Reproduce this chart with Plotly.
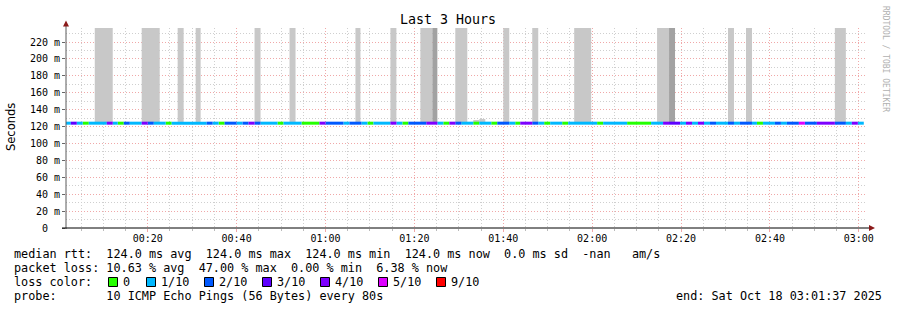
import plotly.graph_objects as go
from datetime import datetime, timedelta

# ---------------- data ----------------
DAY = datetime(2025, 10, 18)
range_start = "2025-10-18 00:01:37"
range_end = "2025-10-18 03:01:37"

median_rtt_ms = 124.0

# loss-coloured median line: run start (minutes after 00:00) and loss level (x/10)
loss_seg_start_min = [1.57, 2.70, 4.04, 5.39, 6.74, 10.79, 12.13, 13.26, 14.61, 15.96,
                      18.65, 20.00, 21.35, 24.04, 25.39, 33.26, 34.61, 35.96, 37.30, 40.00,
                      41.35, 42.70, 44.04, 45.39, 49.21, 50.56, 54.61, 58.65, 60.00, 64.04,
                      65.39, 68.09, 69.44, 70.79, 74.61, 75.96, 77.30, 78.65, 82.70, 85.17,
                      86.52, 87.87, 89.21, 90.56, 93.26, 94.61, 97.30, 98.65, 101.35, 102.70,
                      103.82, 106.52, 107.87, 109.21, 110.56, 113.26, 114.61, 121.12, 122.47, 127.87,
                      133.26, 135.96, 137.30, 139.78, 141.12, 142.47, 143.82, 145.17, 146.52, 147.87,
                      150.56, 151.91, 153.26, 155.96, 157.08, 158.43, 161.12, 162.47, 163.82, 166.52,
                      167.87, 170.56, 174.61, 177.08, 178.43, 179.78]
loss_seg_level = [1, 3, 1, 0, 1, 4, 1, 0, 2, 1,
                  4, 2, 1, 0, 1, 2, 1, 0, 2, 1,
                  2, 4, 2, 1, 0, 1, 0, 4, 2, 1,
                  2, 1, 0, 1, 4, 1, 0, 2, 4, 1,
                  0, 4, 2, 1, 0, 1, 0, 2, 1, 0,
                  4, 2, 1, 0, 1, 0, 1, 0, 1, 0,
                  1, 4, 3, 1, 4, 1, 4, 1, 2, 1,
                  2, 1, 2, 1, 0, 1, 2, 1, 2, 5,
                  2, 4, 2, 1, 4, 1]
loss_last_end_min = 181.12

# smoke (spread of the pings above the median)
smoke_start_min = [8.09, 18.65, 26.74, 30.79, 44.04, 51.91, 66.74, 74.61, 81.35, 84.04,
                   89.21, 93.26, 94.61, 100.00, 106.52, 115.96, 134.61, 137.30, 150.56, 154.61, 174.61]
smoke_end_min = [12.13, 22.70, 28.09, 31.91, 45.39, 53.26, 67.87, 75.96, 84.04, 85.17,
                 91.91, 94.61, 95.96, 101.35, 107.87, 119.78, 137.30, 138.65, 151.91, 155.96, 177.08]
smoke_top_ms = [245, 245, 245, 245, 245, 245, 245, 245, 245, 245,
                245, 127.7, 128.9, 245, 245, 245, 245, 245, 245, 245, 245]
smoke_dense = [0, 0, 0, 0, 0, 0, 0, 0, 0, 1,
               0, 0, 0, 0, 0, 0, 0, 1, 0, 0, 0]

loss_levels = [0, 1, 2, 3, 4, 5, 9]
loss_labels = ["0", "1/10", "2/10", "3/10", "4/10", "5/10", "9/10"]
loss_colors = ["#26ff00", "#00b8ff", "#0059ff", "#5e00ff", "#7e00ff", "#dd00ff", "#ff0000"]

y_tick_vals = [0, 20, 40, 60, 80, 100, 120, 140, 160, 180, 200, 220]
y_tick_text = ["0\u00a0\u00a0", "20\u00a0m", "40\u00a0m", "60\u00a0m", "80\u00a0m", "100\u00a0m",
               "120\u00a0m", "140\u00a0m", "160\u00a0m", "180\u00a0m", "200\u00a0m", "220\u00a0m"]

stat_lines = [
    "median rtt:  124.0 ms avg  124.0 ms max  124.0 ms min  124.0 ms now  0.0 ms sd  -nan   am/s",
    "packet loss: 10.63 % avg  47.00 % max  0.00 % min  6.38 % now",
]
probe_line = "probe:       10 ICMP Echo Pings (56 Bytes) every 80s"
end_line = "end: Sat Oct 18 03:01:37 2025"

# ---------------- helpers ----------------
def t(m):
    return DAY + timedelta(minutes=m)

W, H = 897, 310
ML, MR, MT, MB = 66, 31, 28, 82
PW, PH = W - ML - MR, H - MT - MB

def px(x):
    return (x - ML) / PW

def py(y):
    return (H - MB - y) / PH

MONO = "DejaVu Sans Mono"

fig = go.Figure()

# smoke bars
sx, sw, sb, sy, sc = [], [], [], [], []
for a, b, top, dense in zip(smoke_start_min, smoke_end_min, smoke_top_ms, smoke_dense):
    sx.append(t((a + b) / 2))
    sw.append((b - a) * 60000)
    sb.append(median_rtt_ms)
    sy.append(top - median_rtt_ms)
    sc.append("#a2a2a2" if dense else "#c8c8c8")
fig.add_trace(go.Bar(x=sx, y=sy, base=sb, width=sw, marker=dict(color=sc, line=dict(width=0)),
                     hoverinfo="skip"))

# loss-coloured median line
ends = loss_seg_start_min[1:] + [loss_last_end_min]
for lvl, col in zip(loss_levels, loss_colors):
    xs, ys = [], []
    for a, b, l in zip(loss_seg_start_min, ends, loss_seg_level):
        if l == lvl:
            xs += [t(a), t(b), None]
            ys += [median_rtt_ms, median_rtt_ms, None]
    if xs:
        fig.add_trace(go.Scatter(x=xs, y=ys, mode="lines", line=dict(color=col, width=3),
                                 hoverinfo="skip"))

major_grid = "#f0a8a8"
minor_grid = "#cfcfcf"

fig.update_xaxes(type="date", range=[range_start, range_end], tickformat="%H:%M",
                 tick0="2025-10-18 00:00:00", dtick=20 * 60000,
                 showgrid=True, gridcolor=major_grid, griddash="1px,2px", gridwidth=1,
                 ticks="outside", ticklen=3, tickcolor="#f0a8a8",
                 ticklabelstandoff=-2,
                 tickfont=dict(family=MONO, size=10, color="#000"),
                 minor=dict(tick0="2025-10-18 00:00:00", dtick=5 * 60000, showgrid=True,
                            gridcolor=minor_grid, griddash="1px,2px", gridwidth=1, ticks="outside",
                            ticklen=2, tickcolor="#bbbbbb"),
                 showline=False, zeroline=False, fixedrange=True)
fig.update_yaxes(range=[0, 236.6], tickvals=y_tick_vals, ticktext=y_tick_text,
                 showgrid=True, gridcolor=major_grid, griddash="1px,2px", gridwidth=1,
                 ticks="outside", ticklen=3, tickcolor="#666666",
                 tickfont=dict(family=MONO, size=10, color="#000"),
                 minor=dict(dtick=10, showgrid=True, gridcolor=minor_grid, griddash="1px,2px",
                            gridwidth=1),
                 showline=False, zeroline=False, fixedrange=True)

shapes = []
# axes
shapes.append(dict(type="line", xref="paper", yref="paper", x0=px(66), x1=px(66), y0=py(229), y1=py(23),
                   line=dict(color="#5a5a5a", width=1)))
shapes.append(dict(type="line", xref="paper", yref="paper", x0=px(62), x1=px(870), y0=py(228), y1=py(228),
                   line=dict(color="#000000", width=1)))
# arrows
shapes.append(dict(type="path", xref="paper", yref="paper",
                   path=f"M {px(63)} {py(26.5)} L {px(69)} {py(26.5)} L {px(66)} {py(20.5)} Z",
                   fillcolor="#8b1a1a", line=dict(width=0)))
shapes.append(dict(type="path", xref="paper", yref="paper",
                   path=f"M {px(869)} {py(225)} L {px(869)} {py(231)} L {px(875)} {py(228)} Z",
                   fillcolor="#8b1a1a", line=dict(width=0)))

ann = []

def text(x, y, s, size=11.8, anchor="left", color="#000", family=MONO, angle=0, yanchor="middle"):
    ann.append(dict(x=px(x), y=py(y), xref="paper", yref="paper", text=s.replace(" ", "\u00a0"),
                    showarrow=False, xanchor=anchor, yanchor=yanchor, textangle=angle,
                    borderpad=0, borderwidth=0,
                    font=dict(family=family, size=size, color=color)))

text(448, 20, "Last 3 Hours", size=13.3, anchor="center")
text(11, 127, "Seconds", size=11.5, anchor="center", family="DejaVu Sans", angle=-90)
text(886, 59, "RRDTOOL / TOBI OETIKER", size=8, anchor="center", color="#b0b0b0", angle=90)

text(14, 254, stat_lines[0])
text(14, 268, stat_lines[1])
text(14, 282, "loss color:")
sq_left = [108, 146, 204, 262, 320, 378, 436]
for sl, lab, col in zip(sq_left, loss_labels, loss_colors):
    shapes.append(dict(type="rect", xref="paper", yref="paper", x0=px(sl + 0.5), x1=px(sl + 9.5),
                       y0=py(277.5), y1=py(286.5), fillcolor=col, line=dict(color="#000", width=1)))
    text(sl + 14.5, 282, lab)
text(14, 296, probe_line)
text(882, 296, end_line, anchor="right")

fig.update_layout(width=W, height=H, margin=dict(l=ML, r=MR, t=MT, b=MB, pad=0),
                  paper_bgcolor="white", plot_bgcolor="white", showlegend=False,
                  barmode="overlay", shapes=shapes, annotations=ann)

fig.write_html("out.html")
